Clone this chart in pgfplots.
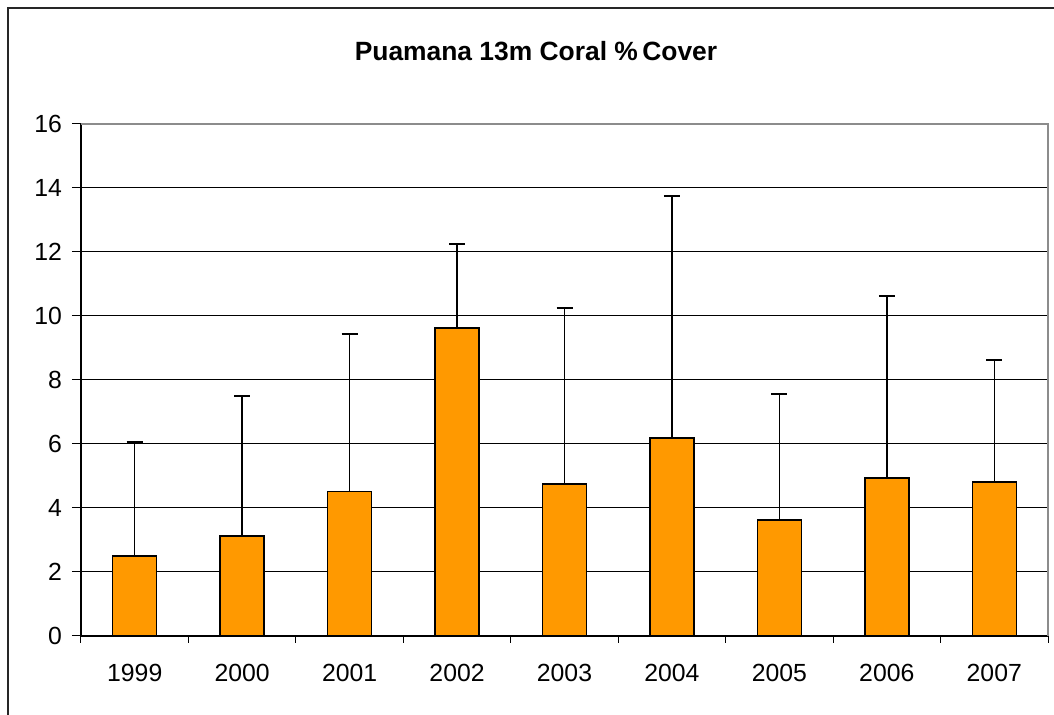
\documentclass[border=0pt]{standalone}
\usepackage{fontspec}
\setmainfont{Liberation Sans}
\usepackage{pgfplots}
\pgfplotsset{compat=1.18}
\definecolor{barorange}{RGB}{255,153,0}
\definecolor{framegray}{RGB}{140,140,140}

\pgfplotstableread{
x y e
0 2.50 3.56
1 3.12 4.38
2 4.51 4.93
3 9.63 2.62
4 4.75 5.50
5 6.18 7.57
6 3.62 3.94
7 4.93 5.69
8 4.81 3.81
}\coverdata

\begin{document}
\begin{tikzpicture}
\begin{axis}[
    name=ax,
    at={(0,0)}, anchor=south west,
    scale only axis,
    width=483.5pt, height=256pt,
    ybar, bar width=22pt,
    xmin=-0.5, xmax=8.5,
    ymin=0, ymax=16,
    ytick={0,2,...,16},
    xtick={0,...,8},
    xticklabels={1999,2000,2001,2002,2003,2004,2005,2006,2007},
    minor xtick={-0.5,0.5,...,8.5},
    major x tick style={draw=none},
    tick align=outside,
    major tick length=4.5pt, minor tick length=3.5pt,
    tick style={black, line width=0.5pt},
    ymajorgrids, grid style={black, line width=0.5pt},
    axis x line*=bottom, axis y line*=left,
    axis line style={black, line width=0.6pt},
    ticklabel style={font=\fontsize{12.4}{14}\selectfont},
    xticklabel style={yshift=-6pt},
    yticklabel style={xshift=-1.5pt},
    /pgf/number format/assume math mode=true,
    clip=false,
]
\addplot[fill=barorange, draw=black, line width=0.75pt,
    error bars/.cd, y dir=plus, y explicit,
    error bar style={black, line width=0.75pt},
    error mark options={black, line width=0.75pt, mark size=4pt, rotate=90}]
    table[x=x, y=y, y error=e]{\coverdata};
\draw[framegray, line width=0.6pt] (rel axis cs:0,1) -- (rel axis cs:1,1) -- (rel axis cs:1,0);
\end{axis}
\draw[line width=0.75pt, black!85] ([xshift=-36.5pt,yshift=-50pt]ax.south west) -- ([xshift=-36.5pt,yshift=314pt]ax.south west) -- ([xshift=495pt,yshift=314pt]ax.south west);
\node[font=\bfseries\fontsize{13.2}{15}\selectfont, anchor=base] at ([xshift=227.5pt,yshift=287.5pt]ax.south west) {Puamana 13m Coral \%\,Cover};
\pgfresetboundingbox
\useasboundingbox ([xshift=-40.5pt,yshift=-39.5pt]ax.south west) rectangle ([xshift=486.5pt,yshift=318pt]ax.south west);
\end{tikzpicture}
\end{document}
